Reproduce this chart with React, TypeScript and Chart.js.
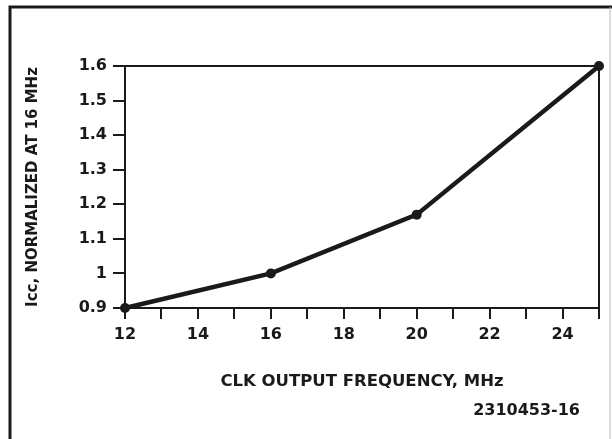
import React, { useEffect, useRef } from "react";
import { Chart, registerables } from "chart.js";

Chart.register(...registerables);

const frequencies = [12, 16, 20, 25];
const iccNormalized = [0.9, 1.0, 1.17, 1.6];
const xTitle = "CLK OUTPUT FREQUENCY, MHz";
const yTitle = "Icc, NORMALIZED AT 16 MHz";
const figureCode = "2310453-16";

const INK = "#1a1a1a";
const FONT = "'DejaVu Sans', sans-serif";

const framePlugin = {
  id: "frame",
  beforeDraw(chart: any) {
    const { ctx, width, height } = chart;
    ctx.save();
    ctx.fillStyle = "#ffffff";
    ctx.fillRect(0, 0, width, height);
    ctx.restore();
  },
  afterDraw(chart: any) {
    const { ctx, chartArea, width, height } = chart;
    ctx.save();
    ctx.strokeStyle = INK;
    ctx.lineWidth = 3;
    ctx.beginPath();
    ctx.moveTo(10, height);
    ctx.lineTo(10, 7);
    ctx.lineTo(width, 7);
    ctx.stroke();
    ctx.strokeStyle = "#bbbbbb";
    ctx.lineWidth = 1;
    ctx.beginPath();
    ctx.moveTo(width - 2, 7);
    ctx.lineTo(width - 2, height);
    ctx.stroke();
    // chart box top and right
    ctx.strokeStyle = INK;
    ctx.lineWidth = 2;
    ctx.beginPath();
    ctx.moveTo(chartArea.left, chartArea.top);
    ctx.lineTo(chartArea.right, chartArea.top);
    ctx.lineTo(chartArea.right, chartArea.bottom);
    ctx.stroke();
    // figure code
    ctx.fillStyle = INK;
    ctx.font = `bold 16px ${FONT}`;
    ctx.textAlign = "right";
    ctx.textBaseline = "alphabetic";
    ctx.fillText(figureCode, 580, 415);
    ctx.restore();
  },
};

export default function App() {
  const ref = useRef<HTMLCanvasElement | null>(null);

  useEffect(() => {
    document.body.style.margin = "0";
    const canvas = ref.current;
    if (!canvas) return;
    const chart = new Chart(canvas, {
      type: "line",
      data: {
        datasets: [
          {
            data: frequencies.map((f, i) => ({ x: f, y: iccNormalized[i] })),
            borderColor: INK,
            backgroundColor: INK,
            borderWidth: 4.5,
            pointRadius: 5,
            pointBackgroundColor: INK,
            pointBorderWidth: 0,
            tension: 0,
            clip: false,
          } as any,
        ],
      },
      options: {
        responsive: false,
        animation: false,
        devicePixelRatio: 1,
        layout: { padding: { left: 0, right: 13, top: 66, bottom: 0 } },
        plugins: {
          legend: { display: false },
          tooltip: { enabled: false },
        },
        scales: {
          x: {
            type: "linear",
            min: 12,
            max: 25,
            ticks: {
              stepSize: 1,
              color: INK,
              padding: 6,
              maxRotation: 0,
              autoSkip: false,
              font: { family: FONT, size: 16, weight: "bold" },
              callback: (v: any) => (Number(v) % 2 === 0 ? String(v) : ""),
            },
            grid: {
              drawOnChartArea: false,
              drawTicks: true,
              tickLength: 11,
              color: INK,
              lineWidth: 2,
            },
            border: { display: true, color: INK, width: 2 },
            title: {
              display: true,
              text: xTitle,
              color: INK,
              font: { family: FONT, size: 16.5, weight: "bold" },
              padding: { top: 0, bottom: 47 },
            },
            afterFit: (s: any) => {
              s.height = 439 - 308;
            },
          },
          y: {
            type: "linear",
            min: 0.9,
            max: 1.6,
            ticks: {
              stepSize: 0.1,
              color: INK,
              padding: 6,
              font: { family: FONT, size: 16, weight: "bold" },
              callback: (v: any) => String(Number(Number(v).toFixed(1))),
            },
            grid: {
              drawOnChartArea: false,
              drawTicks: true,
              tickLength: 12,
              color: INK,
              lineWidth: 2,
            },
            border: { display: true, color: INK, width: 2 },
            title: {
              display: true,
              text: yTitle,
              color: INK,
              font: { family: FONT, size: 15, weight: "bold" },
              padding: { top: 24, bottom: 0 },
            },
            afterFit: (s: any) => {
              s.width = 125;
            },
          },
        },
      },
      plugins: [framePlugin],
    });
    return () => chart.destroy();
  }, []);

  return <canvas ref={ref} width={612} height={439} style={{ display: "block" }} />;
}
